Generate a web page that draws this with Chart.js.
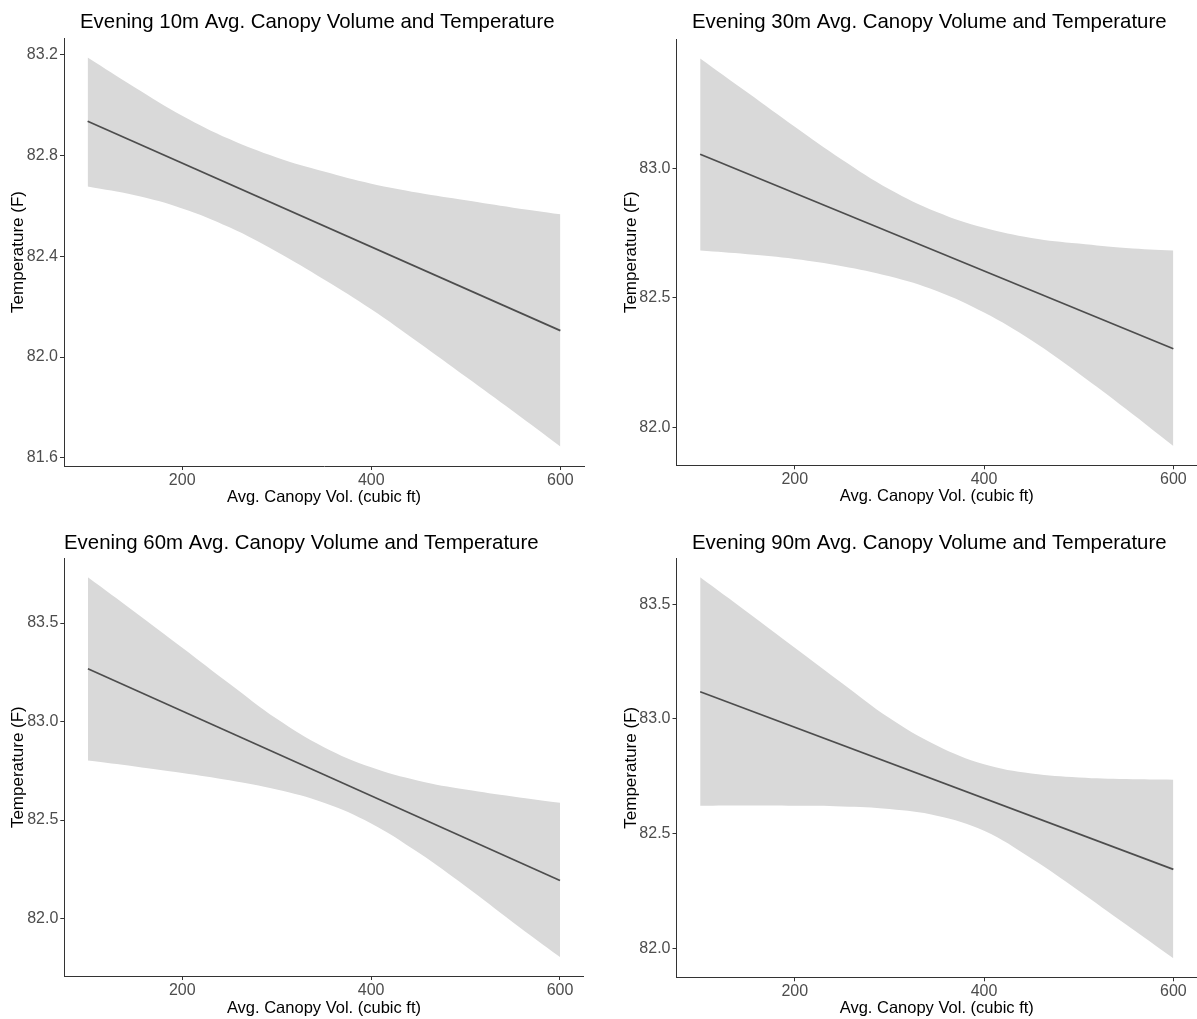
<!DOCTYPE html>
<html>
<head>
<meta charset="utf-8">
<script src="https://cdn.jsdelivr.net/npm/chart.js@4.4.1/dist/chart.umd.min.js"></script>
<style>
  html, body { margin: 0; padding: 0; background: #ffffff; overflow: hidden; }
  #page { position: relative; width: 1197px; height: 1019px; }
  .cell { position: absolute; }
  canvas { display: block; }
</style>
</head>
<body>
<div id="page">
  <div class="cell" style="left:0px;top:0px;"><canvas id="c10" width="598" height="510"></canvas></div>
  <div class="cell" style="left:598px;top:0px;"><canvas id="c30" width="599" height="510"></canvas></div>
  <div class="cell" style="left:0px;top:510px;"><canvas id="c60" width="598" height="509"></canvas></div>
  <div class="cell" style="left:598px;top:510px;"><canvas id="c90" width="599" height="509"></canvas></div>
</div>
<script>
// Canopy volume grid (cubic ft) at which the confidence band is given
const bandX = [100, 150, 200, 250, 300, 350, 400, 450, 500, 550, 600];
// End points of the fitted regression line
const fitX = [100, 600];
const xTicks = [200, 400, 600];

// 10 m buffer
const upper10 = [83.189, 83.070, 82.958, 82.865, 82.792, 82.736, 82.688, 82.652, 82.622, 82.593, 82.567];
const lower10 = [82.677, 82.642, 82.590, 82.515, 82.418, 82.308, 82.190, 82.058, 81.922, 81.785, 81.645];
const fit10 = [82.936, 82.105];
const yTicks10 = [81.6, 82.0, 82.4, 82.8, 83.2];

// 30 m buffer
const upper30 = [83.424, 83.292, 83.160, 83.033, 82.919, 82.831, 82.770, 82.731, 82.709, 82.692, 82.682];
const lower30 = [82.682, 82.668, 82.650, 82.622, 82.583, 82.526, 82.443, 82.336, 82.208, 82.071, 81.928];
const fit30 = [83.054, 82.303];
const yTicks30 = [82.0, 82.5, 83.0];

// 60 m buffer
const upper60 = [83.732, 83.555, 83.375, 83.192, 83.014, 82.870, 82.768, 82.700, 82.655, 82.620, 82.588];
const lower60 = [82.802, 82.772, 82.739, 82.702, 82.655, 82.588, 82.483, 82.335, 82.164, 81.982, 81.805];
const fit60 = [83.268, 82.193];
const yTicks60 = [82.0, 82.5, 83.0, 83.5];

// 90 m buffer
const upper90 = [83.618, 83.466, 83.311, 83.156, 83.004, 82.884, 82.802, 82.762, 82.745, 82.738, 82.735];
const lower90 = [82.621, 82.622, 82.621, 82.618, 82.607, 82.578, 82.512, 82.391, 82.251, 82.103, 81.956];
const fit90 = [83.119, 82.344];
const yTicks90 = [82.0, 82.5, 83.0, 83.5];

const titles = [
  'Evening 10m Avg. Canopy Volume and Temperature',
  'Evening 30m Avg. Canopy Volume and Temperature',
  'Evening 60m Avg. Canopy Volume and Temperature',
  'Evening 90m Avg. Canopy Volume and Temperature'
];
const xLabel = 'Avg. Canopy Vol. (cubic ft)';
const yLabel = 'Temperature (F)';

const FONT = '"Liberation Sans", Arial, "DejaVu Sans", sans-serif';
const BAND = '#D9D9D9';
const LINE = '#4D4D4D';
const AXIS = '#333333';

// Draws the panel heading at a fixed spot above the plotting area
const panelHeading = {
  id: 'panelHeading',
  afterDraw(chart, args, opts) {
    const ctx = chart.ctx;
    ctx.save();
    ctx.font = opts.size + 'px ' + FONT;
    ctx.fillStyle = '#000000';
    ctx.textAlign = 'left';
    ctx.textBaseline = 'alphabetic';
    ctx.fillText(opts.text, opts.x, opts.y);
    ctx.restore();
  }
};

function pts(xs, ys) {
  return xs.map((x, i) => ({ x: x, y: ys[i] }));
}

// 5% expansion of the data range on each side
function expanded(lo, hi) {
  const pad = (hi - lo) * 0.05;
  return [lo - pad, hi + pad];
}

function drawPanel(canvasId, title, upper, lower, fit, yTicks, L) {
  const [xMin, xMax] = expanded(Math.min(...bandX), Math.max(...bandX));
  const [yMin, yMax] = expanded(Math.min(...lower), Math.max(...upper));
  new Chart(document.getElementById(canvasId), {
    type: 'line',
    data: {
      datasets: [
        {
          data: pts(fitX, fit),
          borderColor: LINE,
          borderWidth: 1.7,
          pointRadius: 0,
          tension: 0,
          fill: false,
          order: 0
        },
        {
          data: pts(bandX, upper),
          borderColor: 'rgba(0,0,0,0)',
          borderWidth: 0,
          pointRadius: 0,
          backgroundColor: BAND,
          tension: 0.4,
          fill: '+1',
          order: 1
        },
        {
          data: pts(bandX, lower),
          borderColor: 'rgba(0,0,0,0)',
          borderWidth: 0,
          pointRadius: 0,
          tension: 0.4,
          fill: false,
          order: 2
        }
      ]
    },
    options: {
      responsive: false,
      animation: false,
      events: [],
      layout: { padding: L.pad },
      plugins: {
        legend: { display: false },
        tooltip: { enabled: false },
        title: { display: false },
        panelHeading: { text: title, x: L.headX, y: L.headY, size: 20.4 }
      },
      scales: {
        x: {
          type: 'linear',
          min: xMin,
          max: xMax,
          afterFit: s => { s.height = L.xH; },
          afterBuildTicks: s => { s.ticks = xTicks.map(v => ({ value: v })); },
          ticks: {
            color: '#4D4D4D',
            font: { family: FONT, size: 16 },
            padding: 1,
            maxRotation: 0,
            autoSkip: false,
            callback: v => String(v)
          },
          grid: { display: true, drawOnChartArea: false, drawTicks: true, tickLength: 4, tickColor: AXIS, tickWidth: 1 },
          border: { display: true, color: AXIS, width: 1 },
          title: {
            display: true,
            text: xLabel,
            color: '#000000',
            font: { family: FONT, size: 16.5, lineHeight: 1.2 },
            padding: { top: 0, bottom: L.xTitlePad }
          }
        },
        y: {
          type: 'linear',
          min: yMin,
          max: yMax,
          afterFit: s => { s.width = L.yW; },
          afterBuildTicks: s => { s.ticks = yTicks.map(v => ({ value: v })); },
          ticks: {
            color: '#4D4D4D',
            font: { family: FONT, size: 16 },
            padding: 2,
            autoSkip: false,
            callback: v => v.toFixed(1)
          },
          grid: { display: true, drawOnChartArea: false, drawTicks: true, tickLength: 4, tickColor: AXIS, tickWidth: 1 },
          border: { display: true, color: AXIS, width: 1 },
          title: {
            display: true,
            text: yLabel,
            color: '#000000',
            font: { family: FONT, size: 17, lineHeight: 1.2 },
            padding: { top: L.yTitlePad, bottom: 0 }
          }
        }
      }
    },
    plugins: [panelHeading]
  });
}

drawPanel('c10', titles[0], upper10, lower10, fit10, yTicks10,
  { pad: { left: 0, right: 14, top: 38, bottom: 0 }, yW: 64, xH: 44, headX: 80, headY: 28, yTitlePad: 8, xTitlePad: 3 });
drawPanel('c30', titles[1], upper30, lower30, fit30, yTicks30,
  { pad: { left: 0, right: 0, top: 39, bottom: 0 }, yW: 78.5, xH: 44.7, headX: 94, headY: 28, yTitlePad: 23, xTitlePad: 3.4 });
drawPanel('c60', titles[2], upper60, lower60, fit60, yTicks60,
  { pad: { left: 0, right: 14.4, top: 48.3, bottom: 0 }, yW: 64.3, xH: 43, headX: 64, headY: 39, yTitlePad: 8, xTitlePad: 0.8 });
drawPanel('c90', titles[3], upper90, lower90, fit90, yTicks90,
  { pad: { left: 0, right: 0, top: 48.3, bottom: 0 }, yW: 78.5, xH: 41.7, headX: 94, headY: 39, yTitlePad: 23, xTitlePad: 0.8 });
</script>
</body>
</html>
